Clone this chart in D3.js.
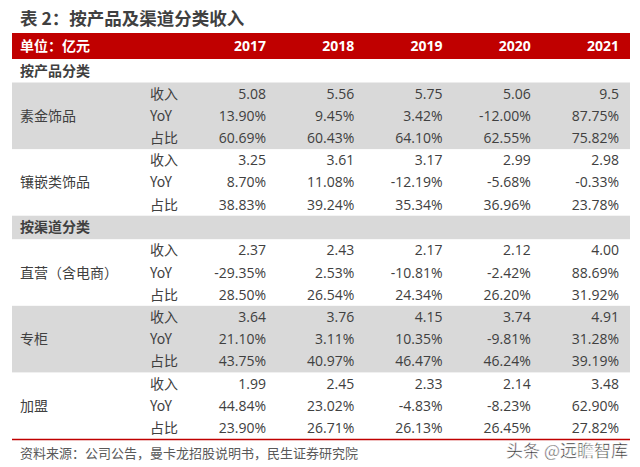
<!DOCTYPE html>
<html><head><meta charset="utf-8">
<script src="https://cdn.jsdelivr.net/npm/d3@7"></script>
<style>
html,body{margin:0;padding:0;background:#fff;}
svg{display:block;font-family:"Noto Sans CJK SC","Noto Sans",sans-serif;}
</style></head>
<body>
<script>
const title = "表 2：按产品及渠道分类收入";
const unitLabel = "单位：亿元";
const years = ["2017","2018","2019","2020","2021"];
const metrics = ["收入","YoY","占比"];
const sectionProduct = "按产品分类";
const sectionChannel = "按渠道分类";
const productCats = ["素金饰品","镶嵌类饰品"];
const channelCats = ["直营（含电商）","专柜","加盟"];

const suJinRevenue = ["5.08","5.56","5.75","5.06","9.5"];
const suJinYoY     = ["13.90%","9.45%","3.42%","-12.00%","87.75%"];
const suJinShare   = ["60.69%","60.43%","64.10%","62.55%","75.82%"];
const xiangQianRevenue = ["3.25","3.61","3.17","2.99","2.98"];
const xiangQianYoY     = ["8.70%","11.08%","-12.19%","-5.68%","-0.33%"];
const xiangQianShare   = ["38.83%","39.24%","35.34%","36.96%","23.78%"];
const zhiYingRevenue = ["2.37","2.43","2.17","2.12","4.00"];
const zhiYingYoY     = ["-29.35%","2.53%","-10.81%","-2.42%","88.69%"];
const zhiYingShare   = ["28.50%","26.54%","24.34%","26.20%","31.92%"];
const zhuanGuiRevenue = ["3.64","3.76","4.15","3.74","4.91"];
const zhuanGuiYoY     = ["21.10%","3.11%","10.35%","-9.81%","31.28%"];
const zhuanGuiShare   = ["43.75%","40.97%","46.47%","46.24%","39.19%"];
const jiaMengRevenue = ["1.99","2.45","2.33","2.14","3.48"];
const jiaMengYoY     = ["44.84%","23.02%","-4.83%","-8.23%","62.90%"];
const jiaMengShare   = ["23.90%","26.71%","26.13%","26.45%","27.82%"];

const source = "资料来源：公司公告，曼卡龙招股说明书，民生证券研究院";
const watermark = "头条 @远瞻智库";

// build table structure
const blocks = [
  {type:"section", label: sectionProduct, shade:false},
  {type:"group", label: productCats[0], shade:true,  rows:[suJinRevenue, suJinYoY, suJinShare]},
  {type:"group", label: productCats[1], shade:false, rows:[xiangQianRevenue, xiangQianYoY, xiangQianShare]},
  {type:"section", label: sectionChannel, shade:true},
  {type:"group", label: channelCats[0], shade:false, rows:[zhiYingRevenue, zhiYingYoY, zhiYingShare]},
  {type:"group", label: channelCats[1], shade:true,  rows:[zhuanGuiRevenue, zhuanGuiYoY, zhuanGuiShare]},
  {type:"group", label: channelCats[2], shade:false, rows:[jiaMengRevenue, jiaMengYoY, jiaMengShare]},
];

const W = 640, H = 467;
const left = 12, right = 630;
const headerTop = 33, headerH = 26;
const sectionH = 23.5, rowH = 22.2;
const textColor = "#404040";
const red = "#C00000";
const gray = "#D9D9D9";

const svg = d3.select("body").append("svg").attr("width", W).attr("height", H);

// column scale (right edges of value columns)
const x = d3.scalePoint().domain(years).range([266, 619]);

svg.append("text").attr("x", 20).attr("y", 25)
  .attr("font-size", 17.5).attr("font-weight", "bold").attr("fill", textColor)
  .text(title);

// header
svg.append("rect").attr("x", left).attr("y", headerTop).attr("width", right-left).attr("height", headerH).attr("fill", red);
svg.append("text").attr("x", 20).attr("y", headerTop + headerH/2).attr("dy", "0.36em")
  .attr("font-size", 14).attr("font-weight", "bold").attr("fill", "#fff").text(unitLabel);
svg.selectAll("text.year").data(years).join("text").attr("class","year")
  .attr("x", d => x(d)).attr("y", headerTop + headerH/2).attr("dy", "0.36em")
  .attr("text-anchor", "end").attr("font-size", 14).attr("font-weight", "bold")
  .attr("font-family", "'Open Sans','Noto Sans',sans-serif")
  .attr("fill", "#fff").text(d => d);

let y = headerTop + headerH;
blocks.forEach(b => {
  const h = b.type === "section" ? sectionH : rowH * 3;
  if (b.shade) svg.append("rect").attr("x", left).attr("y", y).attr("width", right-left).attr("height", h).attr("fill", gray);
  if (b.type === "section") {
    svg.append("text").attr("x", 20).attr("y", y + h/2).attr("dy", "0.36em")
      .attr("font-size", 14).attr("font-weight", "bold").attr("fill", textColor).text(b.label);
  } else {
    const ry = d3.scaleBand().domain(metrics).range([y, y + h]);
    svg.append("text").attr("x", 20).attr("y", ry(metrics[1]) + ry.bandwidth()/2).attr("dy", "0.36em")
      .attr("font-size", 14).attr("fill", textColor).text(b.label);
    metrics.forEach((m, i) => {
      const cy = ry(m) + ry.bandwidth()/2;
      svg.append("text").attr("x", 150).attr("y", cy).attr("dy", "0.36em")
        .attr("font-size", 14).attr("fill", textColor).text(m);
      svg.selectAll(null).data(b.rows[i]).join("text")
        .attr("x", (d, j) => x(years[j])).attr("y", cy).attr("dy", "0.36em")
        .attr("text-anchor", "end").attr("font-size", 14)
        .attr("font-family", "'Open Sans','Noto Sans',sans-serif")
        .attr("fill", textColor).text(d => d);
    });
  }
  y += h;
});

svg.append("line").attr("x1", left).attr("x2", right).attr("y1", y+0.5).attr("y2", y+0.5)
  .attr("stroke", red).attr("stroke-width", 1.5);

svg.append("text").attr("x", 20).attr("y", y + 14).attr("dy", "0.36em")
  .attr("font-size", 13).attr("fill", "#595959").text(source);

svg.append("text").attr("x", 628).attr("y", y + 12).attr("dy", "0.36em")
  .attr("text-anchor", "end").attr("font-size", 17)
  .attr("fill", "#2a2a2a").attr("stroke", "#fff").attr("stroke-width", 0.5)
  .text(watermark);
</script>
</body></html>
